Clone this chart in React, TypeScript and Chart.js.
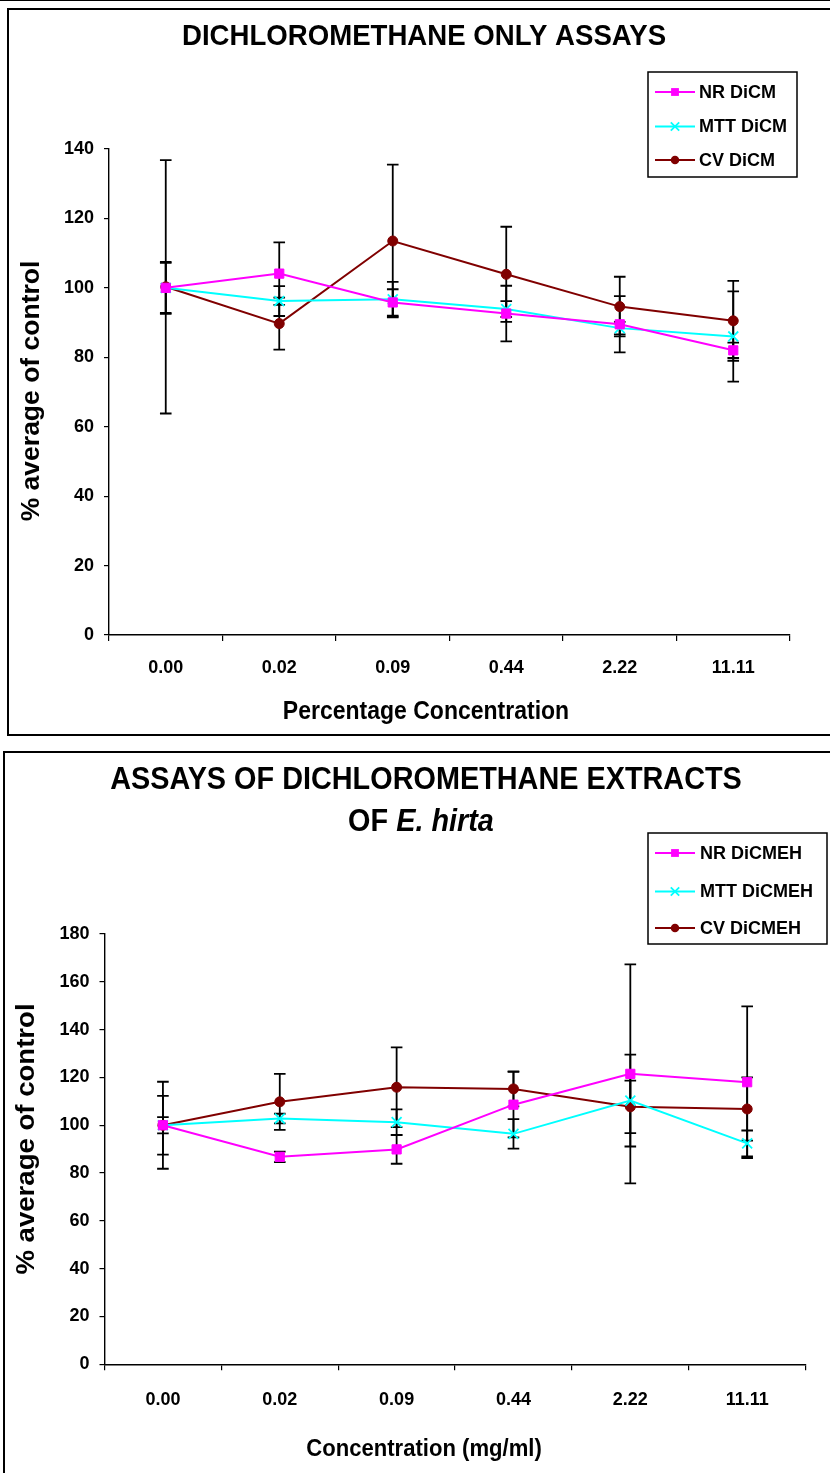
import React, { useEffect, useRef } from 'react';
import { Chart, registerables } from 'chart.js';

Chart.register(...registerables);

const FONT = "'Liberation Sans', Arial, Helvetica, sans-serif";

// ---------- data ----------
const categories = ['0.00', '0.02', '0.09', '0.44', '2.22', '11.11'];

// Chart 1: dichloromethane only
const nrDiCM = [100, 104.1, 95.8, 92.6, 89.5, 82.0];
const nrDiCMErr = [7.5, 9.0, 3.8, 8.0, 8.1, 2.2];
const mttDiCM = [100, 96.2, 96.7, 93.9, 88.4, 86.0];
const mttDiCMErr = [7.2, 4.3, 5.0, 2.3, 1.8, 13.0];
const cvDiCM = [100.3, 89.7, 113.5, 103.9, 94.6, 90.5];
const cvDiCMErr = [36.5, 7.5, 22.0, 13.7, 8.6, 11.5];

// Chart 2: dichloromethane extracts of E. hirta
const nrDiCMEH = [100, 86.8, 89.9, 108.6, 121.5, 118.0];
const nrDiCMEHErr = [12.3, 2.2, 6.0, 13.7, 45.8, 31.7];
const mttDiCMEH = [100, 102.8, 101.3, 96.4, 110.3, 92.4];
const mttDiCMEHErr = [3.4, 2.0, 5.3, 6.2, 19.2, 5.4];
const cvDiCMEH = [100, 109.8, 115.9, 115.2, 107.7, 106.8];
const cvDiCMEHErr = [18.2, 11.7, 16.7, 7.3, 11.0, 13.2];

const yTicks1 = { min: 0, max: 140, step: 20 };
const yTicks2 = { min: 0, max: 180, step: 20 };

// ---------- styles ----------
const NR_COLOR = '#FF00FF';
const MTT_COLOR = '#00FFFF';
const CV_COLOR = '#800000';

function makeDatasets(labels: string[], nr: number[], nrE: number[], mtt: number[], mttE: number[], cv: number[], cvE: number[]) {
  return [
    {
      label: labels[0], data: nr, errors: nrE,
      borderColor: NR_COLOR, backgroundColor: NR_COLOR, borderWidth: 2,
      pointStyle: 'rect', pointRadius: 6.5, pointBorderWidth: 1,
      pointBackgroundColor: NR_COLOR, pointBorderColor: NR_COLOR, tension: 0,
    },
    {
      label: labels[1], data: mtt, errors: mttE,
      borderColor: MTT_COLOR, backgroundColor: MTT_COLOR, borderWidth: 2,
      pointStyle: 'crossRot', pointRadius: 7, pointBorderWidth: 1.8,
      pointBackgroundColor: MTT_COLOR, pointBorderColor: MTT_COLOR, tension: 0,
    },
    {
      label: labels[2], data: cv, errors: cvE,
      borderColor: CV_COLOR, backgroundColor: CV_COLOR, borderWidth: 2,
      pointStyle: 'circle', pointRadius: 5, pointBorderWidth: 1,
      pointBackgroundColor: CV_COLOR, pointBorderColor: CV_COLOR, tension: 0,
    },
  ];
}

// ---------- plugins ----------
const errorBarsPlugin = {
  id: 'errorBars',
  beforeDatasetsDraw(chart: any) {
    const ctx = chart.ctx;
    const y = chart.scales.y;
    ctx.save();
    ctx.strokeStyle = '#000';
    ctx.lineWidth = 1.8;
    chart.data.datasets.forEach((ds: any, i: number) => {
      const meta = chart.getDatasetMeta(i);
      meta.data.forEach((pt: any, j: number) => {
        const v = ds.data[j];
        const e = ds.errors[j];
        const top = y.getPixelForValue(v + e);
        const bot = y.getPixelForValue(v - e);
        const cap = 5.8;
        ctx.beginPath();
        ctx.moveTo(pt.x, top);
        ctx.lineTo(pt.x, bot);
        ctx.moveTo(pt.x - cap, top);
        ctx.lineTo(pt.x + cap, top);
        ctx.moveTo(pt.x - cap, bot);
        ctx.lineTo(pt.x + cap, bot);
        ctx.stroke();
      });
    });
    ctx.restore();
  },
};

function drawMarker(ctx: CanvasRenderingContext2D, style: string, r: number, x: number, y: number) {
  if (style === 'rect') {
    const s = Math.SQRT1_2 * r;
    ctx.fillRect(x - s, y - s, 2 * s, 2 * s);
  } else if (style === 'crossRot') {
    const s = Math.SQRT1_2 * r;
    ctx.beginPath();
    ctx.moveTo(x - s, y - s);
    ctx.lineTo(x + s, y + s);
    ctx.moveTo(x - s, y + s);
    ctx.lineTo(x + s, y - s);
    ctx.stroke();
  } else {
    ctx.beginPath();
    ctx.arc(x, y, r, 0, Math.PI * 2);
    ctx.fill();
  }
}

const boxLegendPlugin = {
  id: 'boxLegend',
  afterDraw(chart: any, _args: any, opts: any) {
    if (!opts || !opts.box) return;
    const ctx = chart.ctx;
    const b = opts.box;
    ctx.save();
    ctx.fillStyle = '#fff';
    ctx.fillRect(b.x, b.y, b.w, b.h);
    ctx.strokeStyle = '#000';
    ctx.lineWidth = 1.5;
    ctx.strokeRect(b.x, b.y, b.w, b.h);
    chart.data.datasets.forEach((ds: any, i: number) => {
      const yy = opts.rows[i];
      ctx.strokeStyle = ds.borderColor;
      ctx.lineWidth = 2;
      ctx.beginPath();
      ctx.moveTo(opts.lineX0, yy);
      ctx.lineTo(opts.lineX1, yy);
      ctx.stroke();
      ctx.fillStyle = ds.pointBackgroundColor;
      ctx.strokeStyle = ds.pointBorderColor;
      ctx.lineWidth = ds.pointBorderWidth;
      drawMarker(ctx, ds.pointStyle, ds.pointRadius * 0.85, (opts.lineX0 + opts.lineX1) / 2, yy);
      ctx.fillStyle = '#000';
      ctx.font = `bold ${opts.fontSize}px ${FONT}`;
      ctx.textBaseline = 'middle';
      ctx.textAlign = 'left';
      ctx.fillText(ds.label, opts.textX, yy + 1);
    });
    ctx.restore();
  },
};

type Seg = { text: string; italic?: boolean };
type TextItem = { segs: Seg[]; x: number; y: number; size: number; sx?: number; rotate?: boolean };

const textLayerPlugin = {
  id: 'textLayer',
  afterDraw(chart: any, _args: any, opts: any) {
    if (!opts || !opts.items) return;
    const ctx = chart.ctx;
    ctx.save();
    ctx.fillStyle = '#000';
    ctx.textBaseline = 'middle';
    ctx.textAlign = 'left';
    opts.items.forEach((it: TextItem) => {
      const fontFor = (s: Seg) => `${s.italic ? 'italic ' : ''}bold ${it.size}px ${FONT}`;
      let total = 0;
      const widths = it.segs.map((s) => {
        ctx.font = fontFor(s);
        const w = ctx.measureText(s.text).width;
        total += w;
        return w;
      });
      ctx.save();
      ctx.translate(it.x, it.y);
      if (it.rotate) ctx.rotate(-Math.PI / 2);
      ctx.scale(it.sx || 1, 1);
      let cx = -total / 2;
      it.segs.forEach((s, k) => {
        ctx.font = fontFor(s);
        ctx.fillText(s.text, cx, 0);
        cx += widths[k];
      });
      ctx.restore();
    });
    ctx.restore();
  },
};

function scaleOptions(yr: { min: number; max: number; step: number }, xPad: number) {
  const tickFont = { family: FONT, size: 18, weight: 'bold' as const };
  return {
    x: {
      type: 'category' as const,
      offset: true,
      grid: { offset: true, drawOnChartArea: false, drawTicks: true, tickLength: 6, color: '#000', lineWidth: 1.2 },
      border: { display: true, color: '#000', width: 1.4 },
      ticks: { font: tickFont, color: '#000', padding: xPad, maxRotation: 0, autoSkip: false },
      afterFit: (s: any) => { s.height = 60; },
    },
    y: {
      min: yr.min,
      max: yr.max,
      grid: { drawOnChartArea: false, drawTicks: true, tickLength: 5, color: '#000', lineWidth: 1.2 },
      border: { display: true, color: '#000', width: 1.4 },
      ticks: { stepSize: yr.step, font: tickFont, color: '#000', padding: 10 },
      afterFit: (s: any) => { s.width = 100; },
    },
  };
}

function useChart(ref: React.RefObject<HTMLCanvasElement>, config: any) {
  useEffect(() => {
    if (!ref.current) return;
    const chart = new Chart(ref.current, config);
    return () => chart.destroy();
  }, []);
}

export default function App() {
  const c1 = useRef<HTMLCanvasElement>(null);
  const c2 = useRef<HTMLCanvasElement>(null);

  useChart(c1, {
    type: 'line',
    data: {
      labels: categories,
      datasets: makeDatasets(['NR DiCM', 'MTT DiCM', 'CV DiCM'], nrDiCM, nrDiCMErr, mttDiCM, mttDiCMErr, cvDiCM, cvDiCMErr),
    },
    options: {
      responsive: false,
      animation: false,
      devicePixelRatio: 1,
      layout: { padding: { left: 9, right: 40, top: 149, bottom: 50 } },
      plugins: {
        legend: { display: false },
        title: { display: false },
        tooltip: { enabled: false },
        boxLegend: {
          box: { x: 648, y: 72, w: 149, h: 105 },
          rows: [92, 126.5, 160],
          lineX0: 655, lineX1: 695, textX: 699, fontSize: 18,
        },
        textLayer: {
          items: [
            { segs: [{ text: 'DICHLOROMETHANE ONLY ASSAYS' }], x: 424, y: 37, size: 30, sx: 0.92 },
            { segs: [{ text: 'Percentage Concentration' }], x: 426, y: 712, size: 25, sx: 0.92 },
            { segs: [{ text: '% average of control' }], x: 32, y: 391, size: 25, sx: 1.06, rotate: true },
          ],
        },
      },
      scales: scaleOptions(yTicks1, 16),
    },
    plugins: [errorBarsPlugin, boxLegendPlugin, textLayerPlugin],
  });

  useChart(c2, {
    type: 'line',
    data: {
      labels: categories,
      datasets: makeDatasets(['NR DiCMEH', 'MTT DiCMEH', 'CV DiCMEH'], nrDiCMEH, nrDiCMEHErr, mttDiCMEH, mttDiCMEHErr, cvDiCMEH, cvDiCMEHErr),
    },
    options: {
      responsive: false,
      animation: false,
      devicePixelRatio: 1,
      layout: { padding: { left: 4.5, right: 24.4, top: 189, bottom: 48.7 } },
      plugins: {
        legend: { display: false },
        title: { display: false },
        tooltip: { enabled: false },
        boxLegend: {
          box: { x: 648, y: 88, w: 179, h: 111 },
          rows: [108, 146.5, 183],
          lineX0: 655, lineX1: 695, textX: 700, fontSize: 18,
        },
        textLayer: {
          items: [
            { segs: [{ text: 'ASSAYS OF DICHLOROMETHANE EXTRACTS' }], x: 426, y: 35, size: 31, sx: 0.93 },
            { segs: [{ text: 'OF ' }, { text: 'E. hirta', italic: true }], x: 421, y: 77, size: 31, sx: 0.93 },
            { segs: [{ text: 'Concentration (mg/ml)' }], x: 424, y: 704, size: 24, sx: 0.92 },
            { segs: [{ text: '% average of control' }], x: 27, y: 394, size: 26, sx: 1.06, rotate: true },
          ],
        },
      },
      scales: scaleOptions(yTicks2, 19),
    },
    plugins: [errorBarsPlugin, boxLegendPlugin, textLayerPlugin],
  });

  return (
    <div style={{ position: 'absolute', left: 0, top: 0, width: 830, height: 1473, overflow: 'hidden', background: '#fff' }}>
      <div style={{ position: 'absolute', left: 0, top: 0, width: 830, height: 0, borderTop: '1px solid #000' }} />
      <div style={{ position: 'absolute', left: 7, top: 8, width: 830 - 9, height: 724, border: '2px solid #000', borderRight: 'none' }} />
      <div style={{ position: 'absolute', left: 3, top: 751, width: 830 - 5, height: 730, border: '2px solid #000', borderRight: 'none', borderBottom: 'none' }} />
      <canvas ref={c1} width={830} height={745} style={{ position: 'absolute', left: 0, top: 0, width: 830, height: 745 }} />
      <canvas ref={c2} width={830} height={728} style={{ position: 'absolute', left: 0, top: 745, width: 830, height: 728 }} />
    </div>
  );
}
